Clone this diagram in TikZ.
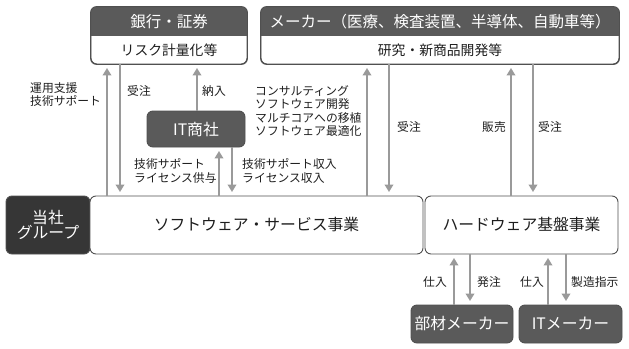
\documentclass[tikz,border=0pt]{standalone}
\usepackage{fontspec}
\setmainfont{Noto Sans CJK JP}
\usetikzlibrary{arrows.meta,calc}
\definecolor{hdr}{HTML}{5A5A5A}
\definecolor{darkbox}{HTML}{363636}
\definecolor{bord}{HTML}{505050}
\definecolor{arrg}{HTML}{9A9A9A}
\definecolor{txt}{HTML}{1E1E1E}
\newcommand{\fsH}{\fontsize{15.5}{18}\selectfont}
\newcommand{\fsS}{\fontsize{13.8}{16}\selectfont}
\newcommand{\fsM}{\fontsize{15.8}{18}\selectfont}
\newcommand{\fsL}{\fontsize{11.8}{13.8}\selectfont}
\tikzset{
  box/.style={draw=bord, line width=0.9pt, rounded corners=6pt, fill=white, inner sep=0pt},
  dbox/.style={draw=bord, line width=0.9pt, rounded corners=6pt, fill=hdr, inner sep=0pt, text=white, font=\fsM},
  hdrtext/.style={text=white, font=\fsH, inner sep=0pt},
  subtext/.style={text=txt, font=\fsS, inner sep=0pt},
  maintext/.style={text=txt, font=\fsM, inner sep=0pt},
  lbl/.style={text=txt, font=\fsL, inner sep=0pt, align=left, anchor=west},
  arr/.style={draw=arrg, line width=2.6pt, -{Triangle[width=8.5pt,length=7.5pt]}, shorten >=3.5pt},
  ln/.style={draw=arrg, line width=2.6pt},
}
\begin{document}
\begin{tikzpicture}[x=1pt,y=-1pt]
\useasboundingbox (0,0) rectangle (629,348);
% ---- headed boxes
\node[box, minimum width=156pt, minimum height=57pt] (bank) at (169,35.5) {};
\begin{scope}
  \clip[rounded corners=6pt] (bank.north west) rectangle (bank.south east);
  \fill[hdr] (bank.north west) rectangle ($(bank.north east)+(0,29)$);
\end{scope}
\draw[bord, line width=0.9pt, rounded corners=6pt] (bank.north west) rectangle (bank.south east);
\node[hdrtext] (bankh) at (169,21.5) {銀行・証券};
\node[subtext] (banks) at (169,50) {リスク計量化等};

\node[box, minimum width=358pt, minimum height=57pt] (maker) at (440,35.5) {};
\begin{scope}
  \clip[rounded corners=6pt] (maker.north west) rectangle (maker.south east);
  \fill[hdr] (maker.north west) rectangle ($(maker.north east)+(0,29)$);
\end{scope}
\draw[bord, line width=0.9pt, rounded corners=6pt] (maker.north west) rectangle (maker.south east);
\node[hdrtext] (makerh) at (440,21.5) {メーカー（医療、検査装置、半導体、自動車等）};
\node[subtext] (makers) at (440,50) {研究・新商品開発等};

% ---- other boxes
\node[dbox, minimum width=98pt, minimum height=36pt] (itsha) at (196,129) {IT商社};
\node[dbox, fill=darkbox, minimum width=84pt, minimum height=58pt, align=center, font=\fsM] (group) at (48,225) {当社\\[-3pt]グループ};
\node[box, minimum width=333pt, minimum height=58pt, maintext] (sw) at (256.5,225) {ソフトウェア・サービス事業};
\node[box, minimum width=193pt, minimum height=58pt, maintext] (hw) at (521.5,225) {ハードウェア基盤事業};
\node[dbox, minimum width=102pt, minimum height=38pt] (buzai) at (462,324) {部材メーカー};
\node[dbox, minimum width=103pt, minimum height=38pt] (itm) at (570.5,324) {ITメーカー};

% ---- arrow columns
\coordinate (c1) at (107,0);
\coordinate (c2) at (120,0);
\coordinate (c3) at (197,0);
\coordinate (c4) at (219,0);
\coordinate (c5) at (232,0);
\coordinate (c6) at (367,0);
\coordinate (c7) at (389,0);
\coordinate (c8) at (511,0);
\coordinate (c9) at (533,0);
\coordinate (c10) at (454,0);
\coordinate (c11) at (470,0);
\coordinate (c12) at (548,0);
\coordinate (c13) at (566,0);

\draw[arr] (c1 |- sw.north) -- (c1 |- bank.south);
\draw[arr] (c2 |- bank.south) -- (c2 |- sw.north);
\draw[arr] (c3 |- itsha.north) -- (c3 |- bank.south);
\draw[arr] (c4 |- sw.north) -- (c4 |- itsha.south);
\draw[arr] (c5 |- itsha.south) -- (c5 |- sw.north);
\draw[arr] (c6 |- sw.north) -- (c6 |- maker.south);
\draw[arr] (c7 |- maker.south) -- (c7 |- sw.north);
\draw[arr] (c8 |- hw.north) -- (c8 |- maker.south);
\draw[arr] (c9 |- maker.south) -- (c9 |- hw.north);
\draw[arr] (c10 |- buzai.north) -- (c10 |- hw.south);
\draw[arr] (c11 |- hw.south) -- (c11 |- buzai.north);
\draw[arr] (c12 |- itm.north) -- (c12 |- hw.south);
\draw[arr] (c13 |- hw.south) -- (c13 |- itm.north);

% ---- labels
\node[lbl] (l1) at (30,94.5) {運用支援\\技術サポート};
\node[lbl] (l2) at (127,91) {受注};
\node[lbl] (l3) at (202,91) {納入};
\node[lbl, align=left] (l4) at (255,111) {コンサルティング\\[-0.3pt]ソフトウェア開発\\[-0.3pt]マルチコアへの移植\\[-0.3pt]ソフトウェア最適化};
\node[lbl] (l5) at (134,171) {技術サポート\\ライセンス供与};
\node[lbl] (l6) at (242,171) {技術サポート収入\\ライセンス収入};
\node[lbl] (l7) at (397,127) {受注};
\node[lbl] (l8) at (482,127) {販売};
\node[lbl] (l9) at (538,127) {受注};
\node[lbl] (l10) at (423,282) {仕入};
\node[lbl] (l11) at (477,282) {発注};
\node[lbl] (l12) at (520,282) {仕入};
\node[lbl] (l13) at (571,282) {製造指示};
\end{tikzpicture}
\end{document}
